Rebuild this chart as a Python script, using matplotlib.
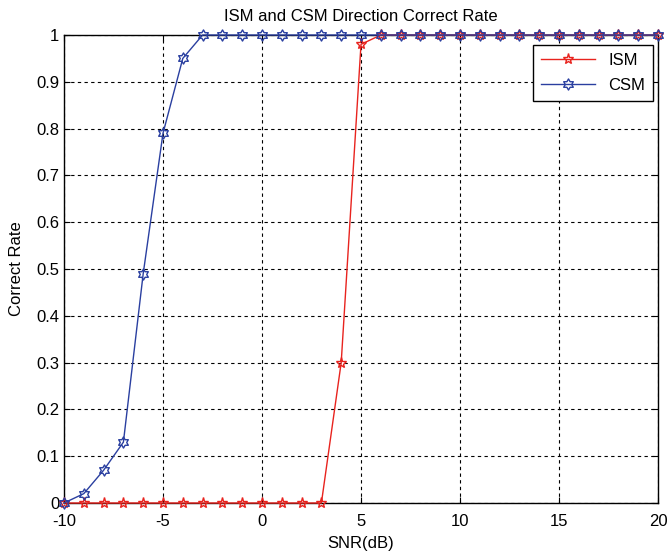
import numpy as np
import matplotlib
matplotlib.use("Agg")
import matplotlib.pyplot as plt
from matplotlib.path import Path

plt.rcParams['font.family'] = ['Liberation Sans', 'DejaVu Sans']
plt.rcParams['axes.unicode_minus'] = False

snr = list(range(-10, 21))
ism = [0] * 14 + [0.3, 0.98] + [1] * 15
csm = [0, 0.02, 0.07, 0.13, 0.49, 0.79, 0.95] + [1] * 24

# hexagram (star of David) marker
ang = np.deg2rad(np.arange(12) * 30 + 90)
rad = np.where(np.arange(12) % 2 == 0, 1.0, 1 / np.sqrt(3))
verts = np.column_stack([rad * np.cos(ang), rad * np.sin(ang)])
verts = np.vstack([verts, verts[:1]])
hexagram = Path(verts, closed=True)

fig = plt.figure(figsize=(6.69, 5.54), dpi=100)
ax = fig.add_axes([64 / 669, 51 / 554, 594 / 669, 468 / 554])

ax.plot(snr, ism, color='#e8231e', lw=1, marker='*', ms=8, mfc='none', mew=1,
        label='ISM', clip_on=False, zorder=6)
ax.plot(snr, csm, color='#2a3fa0', lw=1, marker=hexagram, ms=8, mfc='none', mew=1,
        label='CSM', clip_on=False, zorder=6)

ax.set_xlim(-10, 20)
ax.set_ylim(0, 1)
ax.set_xticks(range(-10, 21, 5))
ax.set_yticks(np.arange(0, 1.01, 0.1))
ax.set_yticklabels(['0', '0.1', '0.2', '0.3', '0.4', '0.5', '0.6', '0.7', '0.8', '0.9', '1'])
ax.grid(True, color='black', ls=(0, (3, 3)), lw=0.8)
ax.tick_params(direction='in', top=True, right=True, labelsize=12, length=4)
ax.tick_params(axis='x', pad=8)
for s in ax.spines.values():
    s.set_linewidth(1)
    s.set_zorder(5)

ax.set_title('ISM and CSM Direction Correct Rate', fontsize=12, pad=10)
ax.set_xlabel('SNR(dB)', fontsize=12, labelpad=5)
ax.set_ylabel('Correct Rate', fontsize=12, labelpad=9)

leg = ax.legend(loc='upper right', bbox_to_anchor=(0.992, 0.979), borderaxespad=0,
                fontsize=12, fancybox=False, edgecolor='black', framealpha=1,
                handlelength=3.2, borderpad=0.5, labelspacing=0.6)
leg.get_frame().set_linewidth(1)
leg.set_zorder(10)

fig.savefig('out.png', dpi=100)
